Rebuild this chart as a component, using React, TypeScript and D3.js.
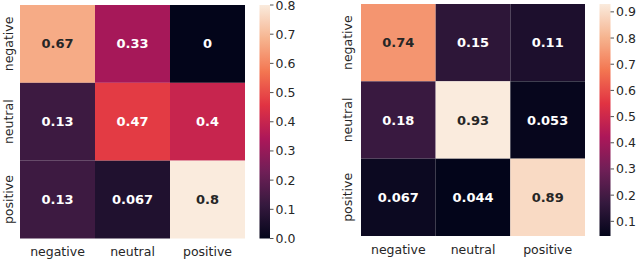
import React from "react";
import * as d3 from "d3";

const labels = ["negative", "neutral", "positive"];
const leftValues = [
  [0.67, 0.33, 0],
  [0.13, 0.47, 0.4],
  [0.13, 0.067, 0.8],
];
const leftText = [
  ["0.67", "0.33", "0"],
  ["0.13", "0.47", "0.4"],
  ["0.13", "0.067", "0.8"],
];
const rightValues = [
  [0.74, 0.15, 0.11],
  [0.18, 0.93, 0.053],
  [0.067, 0.044, 0.89],
];
const rightText = [
  ["0.74", "0.15", "0.11"],
  ["0.18", "0.93", "0.053"],
  ["0.067", "0.044", "0.89"],
];
const leftTicks = [0, 0.1, 0.2, 0.3, 0.4, 0.5, 0.6, 0.7, 0.8];
const rightTicks = [0.1, 0.2, 0.3, 0.4, 0.5, 0.6, 0.7, 0.8, 0.9];

const rocketStops = ["#03051a", "#35193e", "#701f57", "#ad1759", "#e13342", "#f37651", "#f6b48f", "#faebdd"];
const rocketPos = [0, 1 / 7, 2 / 7, 3 / 7, 4 / 7, 5 / 7, 6 / 7, 1];
const rocket = d3.scaleLinear<string>().domain(rocketPos).range(rocketStops).interpolate(d3.interpolateRgb);

const FONT = "DejaVu Sans";
const TXT = "#262626";

function lum(c: string) {
  const rgb = d3.rgb(c);
  const f = (v: number) => {
    v /= 255;
    return v <= 0.03928 ? v / 12.92 : Math.pow((v + 0.055) / 1.055, 2.4);
  };
  return 0.2126 * f(rgb.r) + 0.7152 * f(rgb.g) + 0.0722 * f(rgb.b);
}

type PanelProps = {
  id: string;
  values: number[][];
  text: string[][];
  vmin: number;
  vmax: number;
  ticks: number[];
  x0: number; x1: number; y0: number; y1: number;
  cbx0: number; cbx1: number;
  ylabX: number; xlabY: number;
};

function Panel(p: PanelProps) {
  const xs = d3.scaleBand().domain(labels).range([p.x0, p.x1]);
  const ys = d3.scaleBand().domain(labels).range([p.y0, p.y1]);
  const norm = d3.scaleLinear().domain([p.vmin, p.vmax]).range([0, 1]).clamp(true);
  const color = (v: number) => rocket(norm(v));
  const cbY = d3.scaleLinear().domain([p.vmin, p.vmax]).range([p.y1, p.y0]);
  const stops = d3.range(0, 1.0001, 1 / 28);
  return (
    <g>
      <defs>
        <linearGradient id={p.id} x1="0" y1="1" x2="0" y2="0">
          {stops.map((t, i) => (
            <stop key={i} offset={t} stopColor={rocket(t)} />
          ))}
        </linearGradient>
      </defs>
      {p.values.map((row, i) =>
        row.map((v, j) => {
          const c = color(v);
          const dark = lum(c) > 0.408;
          return (
            <g key={`${i}-${j}`}>
              <rect x={xs(labels[j])} y={ys(labels[i])} width={xs.bandwidth()} height={ys.bandwidth()} fill={c} />
              <text
                x={(xs(labels[j]) as number) + xs.bandwidth() / 2}
                y={(ys(labels[i]) as number) + ys.bandwidth() / 2}
                textAnchor="middle"
                dominantBaseline="central"
                fontFamily={FONT}
                fontWeight="bold"
                fontSize={13}
                fill={dark ? TXT : "#ffffff"}
              >
                {p.text[i][j]}
              </text>
            </g>
          );
        })
      )}
      {labels.map((l) => (
        <text key={"x" + l} x={(xs(l) as number) + xs.bandwidth() / 2} y={p.xlabY} textAnchor="middle"
          fontFamily={FONT} fontSize={12.5} fill={TXT}>{l}</text>
      ))}
      {labels.map((l) => (
        <text key={"y" + l} transform={`translate(${p.ylabX},${(ys(l) as number) + ys.bandwidth() / 2}) rotate(-90)`}
          textAnchor="middle" fontFamily={FONT} fontSize={12.5} fill={TXT}>{l}</text>
      ))}
      <rect x={p.cbx0} y={p.y0} width={p.cbx1 - p.cbx0} height={p.y1 - p.y0} fill={`url(#${p.id})`} />
      {p.ticks.map((t) => (
        <g key={"t" + t} transform={`translate(${p.cbx1},${cbY(t)})`}>
          <line x1={0} x2={3.5} y1={0} y2={0} stroke={TXT} strokeWidth={0.8} />
          <text x={5.5} y={0} dominantBaseline="central" fontFamily={FONT} fontSize={12.5} fill={TXT}>
            {t.toFixed(1)}
          </text>
        </g>
      ))}
    </g>
  );
}

export default function App() {
  return (
    <svg width={640} height={261} style={{ position: "absolute", left: 0, top: 0, background: "#fff" }}>
      <Panel id="cbL" values={leftValues} text={leftText} vmin={0} vmax={0.8} ticks={leftTicks}
        x0={20} x1={245} y0={5} y1={238.5} cbx0={259.5} cbx1={270} ylabX={13} xlabY={255.5} />
      <Panel id="cbR" values={rightValues} text={rightText} vmin={0.044} vmax={0.93} ticks={rightTicks}
        x0={361} x1={585} y0={4} y1={236} cbx0={599.5} cbx1={610.5} ylabX={352} xlabY={254} />
    </svg>
  );
}
